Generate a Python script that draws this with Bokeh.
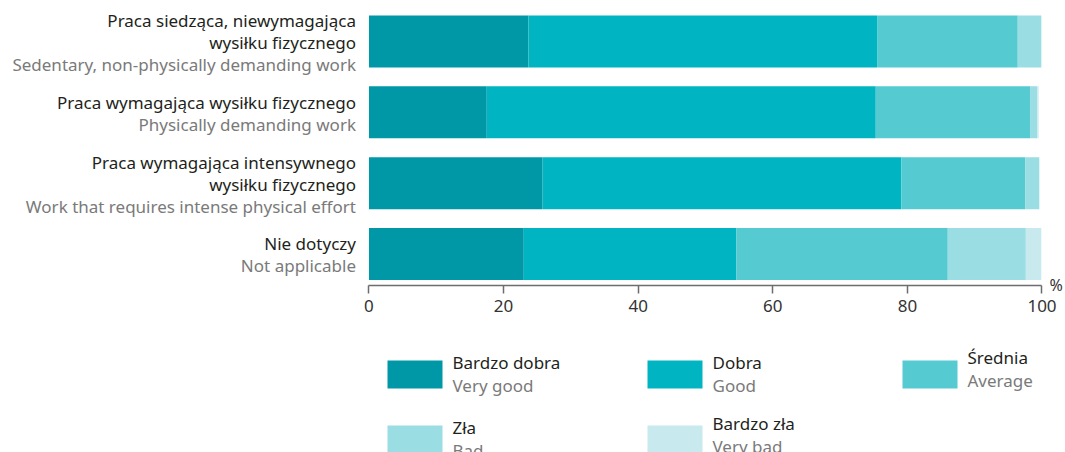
from bokeh.plotting import figure
from bokeh.models import Range1d, ColumnDataSource, FixedTicker, LinearAxis, CustomJSTickFormatter
from bokeh.layouts import column
from bokeh.core.properties import value
from bokeh.embed import file_html
from bokeh.resources import INLINE

# ---------------- data ----------------
labels_pl = ["Praca siedząca, niewymagająca\nwysiłku fizycznego",
             "Praca wymagająca wysiłku fizycznego",
             "Praca wymagająca intensywnego\nwysiłku fizycznego",
             "Nie dotyczy"]
labels_en = ["Sedentary, non-physically demanding work",
             "Physically demanding work",
             "Work that requires intense physical effort",
             "Not applicable"]
bardzo_dobra = [23.7, 17.5, 25.8, 23.0]
dobra = [51.8, 57.8, 53.3, 31.6]
srednia = [20.9, 23.0, 18.4, 31.4]
zla = [3.5, 1.0, 2.1, 11.6]
bardzo_zla = [0.0, 0.2, 0.0, 2.3]
series_pl = ["Bardzo dobra", "Dobra", "Średnia", "Zła", "Bardzo zła"]
series_en = ["Very good", "Good", "Average", "Bad", "Very bad"]
x_ticks = [0, 20, 40, 60, 80, 100]
unit_label = "%"

# ---------------- style ----------------
colors = ["#0097a7", "#00b5c1", "#55cbd1", "#9adde2", "#c8eaee"]
FONT = "Noto Sans"
DARK = "#231f20"
GREY = "#7a7a7a"
FS = "17px"

n = len(labels_pl)
ypos = list(range(n - 1, -1, -1))  # top to bottom

src = ColumnDataSource(dict(y=ypos, bd=bardzo_dobra, d=dobra, s=srednia, z=zla, bz=bardzo_zla))

W = 1065
RB = 17
H1 = 333
H2 = 119
Y0 = -0.445
p = figure(width=W, height=H1, output_backend="svg", toolbar_location=None,
           x_range=Range1d(-54.75, 100.966), y_range=Range1d(Y0, 3.395),
           y_axis_location=None, min_border_left=0, min_border_right=RB,
           min_border_top=13, min_border_bottom=48)
p.outline_line_color = None
p.xgrid.visible = False
p.ygrid.visible = False

p.hbar_stack(["bd", "d", "s", "z", "bz"], y="y", height=0.734, color=colors,
             line_color=None, source=src)

ax = p.xaxis[0]
ax.bounds = (0, 100)
ax.ticker = FixedTicker(ticks=x_ticks)
ax.minor_tick_line_color = None
ax.major_tick_in = 0
ax.major_tick_out = 8
ax.axis_line_color = "#6d6d6d"
ax.axis_line_width = 1.5
ax.major_tick_line_color = "#6d6d6d"
ax.major_tick_line_width = 1.5
ax.major_label_text_font = FONT
ax.major_label_text_font_size = "17px"
ax.major_label_text_color = "#333333"
ax.major_label_standoff = 6

# unit label "%" at the end of the x axis, via a tick-only axis on the right
ra = LinearAxis(ticker=FixedTicker(ticks=[Y0 + 0.004]),
                formatter=CustomJSTickFormatter(code="return '%s';" % unit_label))
ra.axis_line_color = None
ra.major_tick_line_color = None
ra.minor_tick_line_color = None
ra.major_tick_in = 0
ra.major_tick_out = 0
ra.major_label_standoff = 1
ra.major_label_text_font = FONT
ra.major_label_text_font_size = "16px"
ra.major_label_text_color = "#333333"
p.add_layout(ra, "right")

# category labels (Polish lines dark, English line grey)
lx, ly, lt, lc, lo = [], [], [], [], []
for i in range(n):
    lines = labels_pl[i].split("\n")
    cols = [DARK] * len(lines)
    lines.append(labels_en[i])
    cols.append(GREY)
    m = len(lines)
    for k, (t, c) in enumerate(zip(lines, cols)):
        lx.append(0)
        ly.append(ypos[i])
        lt.append(t)
        lc.append(c)
        lo.append((k - (m - 1) / 2) * 22 + 1)
lab_src = ColumnDataSource(dict(x=lx, y=ly, text=lt, color=lc, yo=lo))
p.text(x="x", y="y", text="text", text_color="color", y_offset="yo", x_offset=-13,
       text_align="right", text_baseline="middle", text_font=value(FONT),
       text_font_size=FS, source=lab_src)

# ---------------- legend figure ----------------
q = figure(width=W, height=H2, output_backend="svg", toolbar_location=None,
           x_range=Range1d(0, W - RB), y_range=Range1d(H2, 0),
           x_axis_location=None, y_axis_location=None,
           min_border_left=0, min_border_right=RB, min_border_top=0, min_border_bottom=0)
q.outline_line_color = None
q.xgrid.visible = False
q.ygrid.visible = False

col_x = [387, 647, 902]
row_y = [27, 92]
sw_w, sw_h = 55, 28
text_dx = 65
text_dy = [2, 2, -3, 2, -2]

sl, sr, st, sb = [], [], [], []
tx, ty, tt, tc = [], [], [], []
for j in range(len(series_pl)):
    cx = col_x[j % 3]
    ry = row_y[j // 3]
    sl.append(cx); sr.append(cx + sw_w); st.append(ry); sb.append(ry + sw_h)
    tx += [cx + text_dx, cx + text_dx]
    ty += [ry + text_dy[j], ry + text_dy[j] + 23]
    tt += [series_pl[j], series_en[j]]
    tc += [DARK, GREY]
q.quad(left=sl, right=sr, top=st, bottom=sb, color=colors, line_color=None)
q.text(x=tx, y=ty, text=tt, text_color=tc, text_align="left", text_baseline="middle",
       text_font=value(FONT), text_font_size=FS)

layout = column(p, q, spacing=0)
open("out.html", "w").write(file_html(layout, INLINE))
